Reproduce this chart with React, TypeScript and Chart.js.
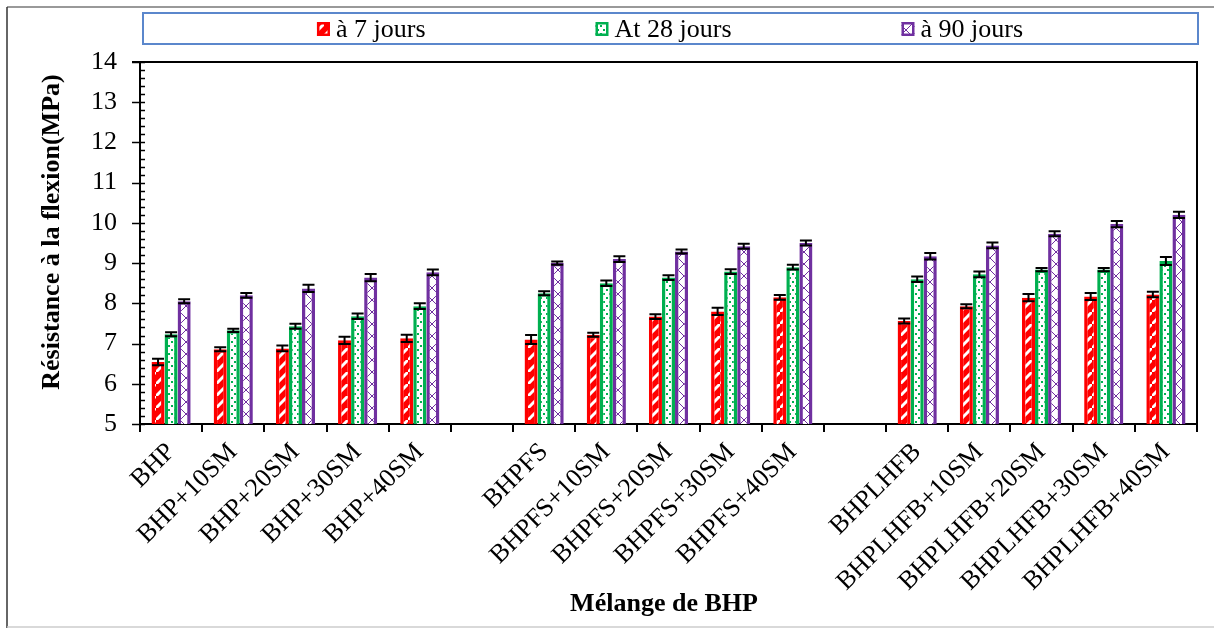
import React, { useEffect, useRef } from 'react';
import { Chart, registerables } from 'chart.js';
Chart.register(...registerables);

const categories = [
  'BHP', 'BHP+10SM', 'BHP+20SM', 'BHP+30SM', 'BHP+40SM', '',
  'BHPFS', 'BHPFS+10SM', 'BHPFS+20SM', 'BHPFS+30SM', 'BHPFS+40SM', '',
  'BHPLHFB', 'BHPLHFB+10SM', 'BHPLHFB+20SM', 'BHPLHFB+30SM', 'BHPLHFB+40SM',
];
const seriesNames = ['à 7 jours', 'At 28 jours', 'à 90 jours'];
const day7 = [6.54, 6.86, 6.88, 7.08, 7.13, null, 7.10, 7.22, 7.67, 7.80, 8.15, null, 7.56, 7.93, 8.14, 8.17, 8.22];
const day28 = [7.23, 7.33, 7.43, 7.68, 7.93, null, 8.25, 8.50, 8.64, 8.79, 8.90, null, 8.60, 8.72, 8.84, 8.84, 9.05];
const day90 = [8.05, 8.20, 8.37, 8.64, 8.77, null, 9.00, 9.10, 9.29, 9.42, 9.50, null, 9.17, 9.44, 9.73, 9.97, 10.20];
const err7 = [0.08, 0.05, 0.07, 0.09, 0.09, null, 0.11, 0.05, 0.06, 0.09, 0.06, null, 0.06, 0.05, 0.09, 0.09, 0.07];
const err28 = [0.05, 0.04, 0.06, 0.07, 0.07, null, 0.05, 0.07, 0.06, 0.06, 0.06, null, 0.07, 0.07, 0.04, 0.04, 0.10];
const err90 = [0.05, 0.06, 0.09, 0.09, 0.07, null, 0.04, 0.07, 0.05, 0.06, 0.06, null, 0.08, 0.07, 0.06, 0.08, 0.08];
const yMin = 5;
const yMax = 14;
const yTitle = 'Résistance à la flexion(MPa)';
const xTitle = 'Mélange de BHP';

const RED = '#FF0000';
const GREEN = '#00B050';
const PURPLE = '#7030A0';
const FONT = '"Liberation Serif", "Times New Roman", serif';

function makeTile(w: number, h: number, draw: (c: CanvasRenderingContext2D) => void) {
  const cv = document.createElement('canvas');
  cv.width = w;
  cv.height = h;
  const c = cv.getContext('2d')!;
  c.fillStyle = '#fff';
  c.fillRect(0, 0, w, h);
  draw(c);
  return cv;
}

function makePatterns(ctx: CanvasRenderingContext2D) {
  const red = makeTile(12, 12, (c) => {
    c.fillStyle = RED;
    c.fillRect(0, 0, 12, 12);
    c.strokeStyle = '#fff';
    c.lineWidth = 3;
    c.beginPath();
    c.moveTo(-3, 15); c.lineTo(15, -3);
    c.stroke();
  });
  const green = makeTile(6, 8, (c) => {
    c.fillStyle = GREEN;
    c.fillRect(0, 1, 2, 2);
    c.fillRect(3, 5, 2, 2);
  });
  const purple = makeTile(12, 12, (c) => {
    c.strokeStyle = PURPLE;
    c.lineWidth = 1;
    c.beginPath();
    c.moveTo(0, 0); c.lineTo(12, 12);
    c.moveTo(12, 0); c.lineTo(0, 12);
    c.stroke();
  });
  return [
    ctx.createPattern(red, 'repeat')!,
    ctx.createPattern(green, 'repeat')!,
    ctx.createPattern(purple, 'repeat')!,
  ];
}

export default function App() {
  const ref = useRef<HTMLCanvasElement>(null);
  useEffect(() => {
    document.body.style.margin = '0';
    const canvas = ref.current!;
    const ctx = canvas.getContext('2d')!;
    const patterns = makePatterns(ctx);
    const colors = [RED, GREEN, PURPLE];
    const values = [day7, day28, day90];
    const errors = [err7, err28, err90];

    const decor = {
      id: 'decor',
      beforeDraw(chart: any) {
        const c = chart.ctx;
        c.save();
        c.fillStyle = '#fff';
        c.fillRect(0, 0, chart.width, chart.height);
        c.restore();
      },
      afterDatasetsDraw(chart: any) {
        const c = chart.ctx;
        const ys = chart.scales.y;
        c.save();
        c.strokeStyle = '#000';
        c.lineWidth = 2;
        for (let d = 0; d < 3; d++) {
          const meta = chart.getDatasetMeta(d);
          meta.data.forEach((el: any, j: number) => {
            const v = values[d][j];
            const e = errors[d][j];
            if (v == null || e == null) return;
            const yt = ys.getPixelForValue(v + e);
            const yb = ys.getPixelForValue(v - e);
            const x = el.x;
            c.beginPath();
            c.moveTo(x, yt); c.lineTo(x, yb);
            c.moveTo(x - 6, yt); c.lineTo(x + 6, yt);
            c.moveTo(x - 6, yb); c.lineTo(x + 6, yb);
            c.stroke();
          });
        }
        c.restore();
      },
      afterDraw(chart: any) {
        const c = chart.ctx;
        const { left, right, top, bottom } = chart.chartArea;
        const ys = chart.scales.y;
        c.save();
        // plot frame top & right
        c.strokeStyle = '#000';
        c.lineWidth = 2;
        c.beginPath();
        c.moveTo(left - 8, top); c.lineTo(right, top); c.lineTo(right, bottom + 8);
        c.stroke();
        // y ticks
        c.lineWidth = 1.5;
        for (let k = 0; k <= (yMax - yMin) * 5; k++) {
          const v = yMin + k * 0.2;
          const py = Math.round(ys.getPixelForValue(v)) + 0.5;
          const major = k % 5 === 0;
          c.beginPath();
          c.moveTo(major ? left - 8 : left, py);
          c.lineTo(left + 5, py);
          c.stroke();
        }
        // titles
        c.fillStyle = '#000';
        c.font = 'bold 26px ' + FONT;
        c.textAlign = 'center';
        c.textBaseline = 'middle';
        c.save();
        c.translate(52, 232);
        c.rotate(-Math.PI / 2);
        c.fillText(yTitle, 0, 0);
        c.restore();
        c.fillText(xTitle, 664, 604);
        // legend box
        c.strokeStyle = '#5B87CC';
        c.lineWidth = 2;
        c.strokeRect(143, 13, 1055, 31);
        c.font = '26px ' + FONT;
        c.textAlign = 'left';
        const sw = 13, gap = 6, spacing = 170;
        const widths = seriesNames.map((n) => sw + gap + c.measureText(n).width);
        const total = widths.reduce((a, b) => a + b, 0) + spacing * 2;
        let x = 670 - total / 2;
        const cy = 29;
        seriesNames.forEach((n, i) => {
          c.fillStyle = patterns[i];
          c.fillRect(x, cy - 7, sw, 14);
          c.strokeStyle = colors[i];
          c.lineWidth = 2.5;
          c.strokeRect(x + 1.25, cy - 5.75, sw - 2.5, 11.5);
          c.fillStyle = '#000';
          c.fillText(n, x + sw + gap, cy + 1);
          x += widths[i] + spacing;
        });
        // outer frame
        c.lineWidth = 1.5;
        c.strokeStyle = '#777';
        c.beginPath();
        c.moveTo(7, 7); c.lineTo(1214, 7);
        c.stroke();
        c.strokeStyle = '#333';
        c.beginPath();
        c.moveTo(7, 7); c.lineTo(7, 628);
        c.stroke();
        c.strokeStyle = '#ccc';
        c.beginPath();
        c.moveTo(7, 627); c.lineTo(1214, 627);
        c.stroke();
        c.restore();
      },
    };

    const chart = new Chart(canvas, {
      type: 'bar',
      data: {
        labels: categories,
        datasets: seriesNames.map((name, i) => ({
          label: name,
          data: values[i],
          backgroundColor: patterns[i],
          borderColor: colors[i],
          borderWidth: 3.5,
          borderSkipped: 'start',
          base: yMin,
          categoryPercentage: 0.63,
          barPercentage: 1.0,
        })),
      },
      options: {
        responsive: false,
        animation: false,
        devicePixelRatio: 1,
        layout: { padding: { top: 62, right: 17, left: 0, bottom: 0 } },
        plugins: { legend: { display: false }, tooltip: { enabled: false } },
        scales: {
          x: {
            afterFit: (s: any) => { s.height = 628 - 424; },
            grid: { display: true, drawOnChartArea: false, drawTicks: true, tickLength: 8, offset: true, color: '#000', lineWidth: 2 },
            border: { display: true, color: '#000', width: 2 },
            ticks: {
              autoSkip: false, maxRotation: 45, minRotation: 45, padding: 5,
              color: '#000', font: { family: FONT, size: 26 },
            },
          },
          y: {
            min: yMin, max: yMax,
            afterFit: (s: any) => { s.width = 140; },
            grid: { display: false, drawTicks: false },
            border: { display: true, color: '#000', width: 2 },
            ticks: { stepSize: 1, padding: 23, color: '#000', font: { family: FONT, size: 26 } },
          },
        },
      },
      plugins: [decor],
    } as any);
    return () => chart.destroy();
  }, []);
  return <canvas ref={ref} width={1214} height={628} style={{ display: 'block' }} />;
}
